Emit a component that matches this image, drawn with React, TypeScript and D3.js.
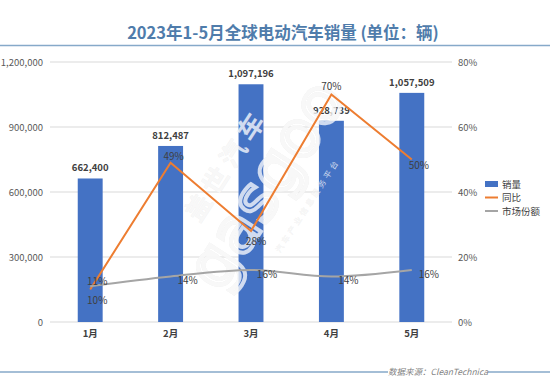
import React from "react";
import * as d3 from "d3";

const months = ["1月", "2月", "3月", "4月", "5月"];
const sales = [662400, 812487, 1097196, 928739, 1057509];
const yoy = [0.10, 0.49, 0.28, 0.70, 0.50];
const share = [0.11, 0.14, 0.16, 0.14, 0.16];
const leftTicks = [0, 300000, 600000, 900000, 1200000];
const rightTicks = [0, 0.2, 0.4, 0.6, 0.8];
const legendItems = ["销量", "同比", "市场份额"];

const W = 550, H = 378;
const M = { left: 50, right: 452, top: 62, bottom: 322 };
const FONT = "'Noto Sans CJK SC', 'Noto Sans', sans-serif";

// label offsets (styling only)
const yoyLabelOff = [[7, 11], [3, -6], [5, 10], [0, -8], [7, 6]];
const shareLabelOff = [[7, -5], [17, 4], [16, 4], [17, 4], [17, 4]];

function Watermark({ color, opacity }: { color: string; opacity: number }) {
  return (
    <g transform="translate(268,180) rotate(-57)" opacity={opacity}>
      <text x={-10} y={-34} fontSize={26} fontWeight="bold" fill={color} textAnchor="middle" letterSpacing={6}>盖世汽车</text>
      <text x={-5} y={22} fontSize={64} fill="none" stroke={color} strokeWidth={4} textAnchor="middle" fontFamily="DejaVu Sans">gasgoo</text>
      <text x={0} y={50} fontSize={8} fill={color} textAnchor="middle" letterSpacing={3}>汽车产业信息服务平台</text>
    </g>
  );
}

export default function App() {
  const x = d3.scaleBand().domain(months).range([M.left, M.right]).paddingInner(0.69).paddingOuter(0.345);
  const yL = d3.scaleLinear().domain([0, 1200000]).range([M.bottom, M.top]);
  const yR = d3.scaleLinear().domain([0, 0.8]).range([M.bottom, M.top]);
  const cx = (m: string) => (x(m) as number) + x.bandwidth() / 2;
  const fmt = d3.format(",");
  const pct = d3.format(".0%");
  const yoyPath = d3.line<number>().x((_, i) => cx(months[i])).y((v) => yR(v))(yoy) as string;
  const sharePath = d3.line<number>().x((_, i) => cx(months[i])).y((v) => yR(v)).curve(d3.curveMonotoneX)(share) as string;

  return (
    <svg width={W} height={H} style={{ position: "absolute", left: 0, top: 0, background: "#fff" }} fontFamily={FONT}>
      <rect width={W} height={H} fill="#fff" />
      <text x={283} y={39} textAnchor="middle" fontSize={16.5} fontWeight="bold" fill="#4f7cab">
        2023年1-5月全球电动汽车销量 (单位：辆)
      </text>
      <line x1={0} x2={W} y1={45.5} y2={45.5} stroke="#86a9c9" strokeWidth={1.5} />

      <Watermark color="#e4e4e4" opacity={0.9} />

      {leftTicks.map((t) => (
        <g key={t}>
          <line x1={M.left} x2={M.right} y1={yL(t)} y2={yL(t)} stroke="#d9d9d9" strokeWidth={1} />
          <text x={43} y={yL(t) + 3.5} textAnchor="end" fontSize={9.5} fill="#595959">{fmt(t)}</text>
        </g>
      ))}
      {rightTicks.map((t) => (
        <text key={t} x={458} y={yR(t) + 3.5} fontSize={9.5} fill="#595959">{pct(t)}</text>
      ))}

      {sales.map((v, i) => (
        <g key={i}>
          <rect x={x(months[i])} y={yL(v)} width={x.bandwidth()} height={M.bottom - yL(v)} fill="#4472c4" />
          <text x={cx(months[i])} y={yL(v) - 7} textAnchor="middle" fontSize={9.5} fontWeight="bold" fill="#404040">{fmt(v)}</text>
          <text x={cx(months[i])} y={337} textAnchor="middle" fontSize={9.5} fontWeight="bold" fill="#404040">{months[i]}</text>
        </g>
      ))}

      <Watermark color="#ffffff" opacity={0.75} />

      <path d={yoyPath} fill="none" stroke="#ed7d31" strokeWidth={2} />
      <path d={sharePath} fill="none" stroke="#a5a5a5" strokeWidth={2} />

      {yoy.map((v, i) => (
        <text key={"y" + i} x={cx(months[i]) + yoyLabelOff[i][0]} y={yR(v) + yoyLabelOff[i][1] + 3.5} textAnchor="middle" fontSize={10} fill="#404040">{pct(v)}</text>
      ))}
      {share.map((v, i) => (
        <text key={"s" + i} x={cx(months[i]) + shareLabelOff[i][0]} y={yR(v) + shareLabelOff[i][1] + 3.5} textAnchor="middle" fontSize={10} fill="#404040">{pct(v)}</text>
      ))}

      {legendItems.map((name, i) => {
        const ly = 184 + i * 13.5;
        return (
          <g key={name}>
            {i === 0 ? (
              <rect x={485} y={ly - 3} width={13} height={6} fill="#4472c4" />
            ) : (
              <line x1={485} x2={498} y1={ly} y2={ly} stroke={i === 1 ? "#ed7d31" : "#a5a5a5"} strokeWidth={2} />
            )}
            <text x={502} y={ly + 3.5} fontSize={9.5} fill="#404040">{name}</text>
          </g>
        );
      })}

      <line x1={0} x2={388} y1={372} y2={372} stroke="#86a9c9" strokeWidth={1.5} />
      <line x1={488} x2={W} y1={372} y2={372} stroke="#86a9c9" strokeWidth={1.5} />
      <text x={438} y={375} textAnchor="middle" fontSize={8.5} fontStyle="italic" fill="#7f7f7f">数据来源：CleanTechnica</text>
    </svg>
  );
}
